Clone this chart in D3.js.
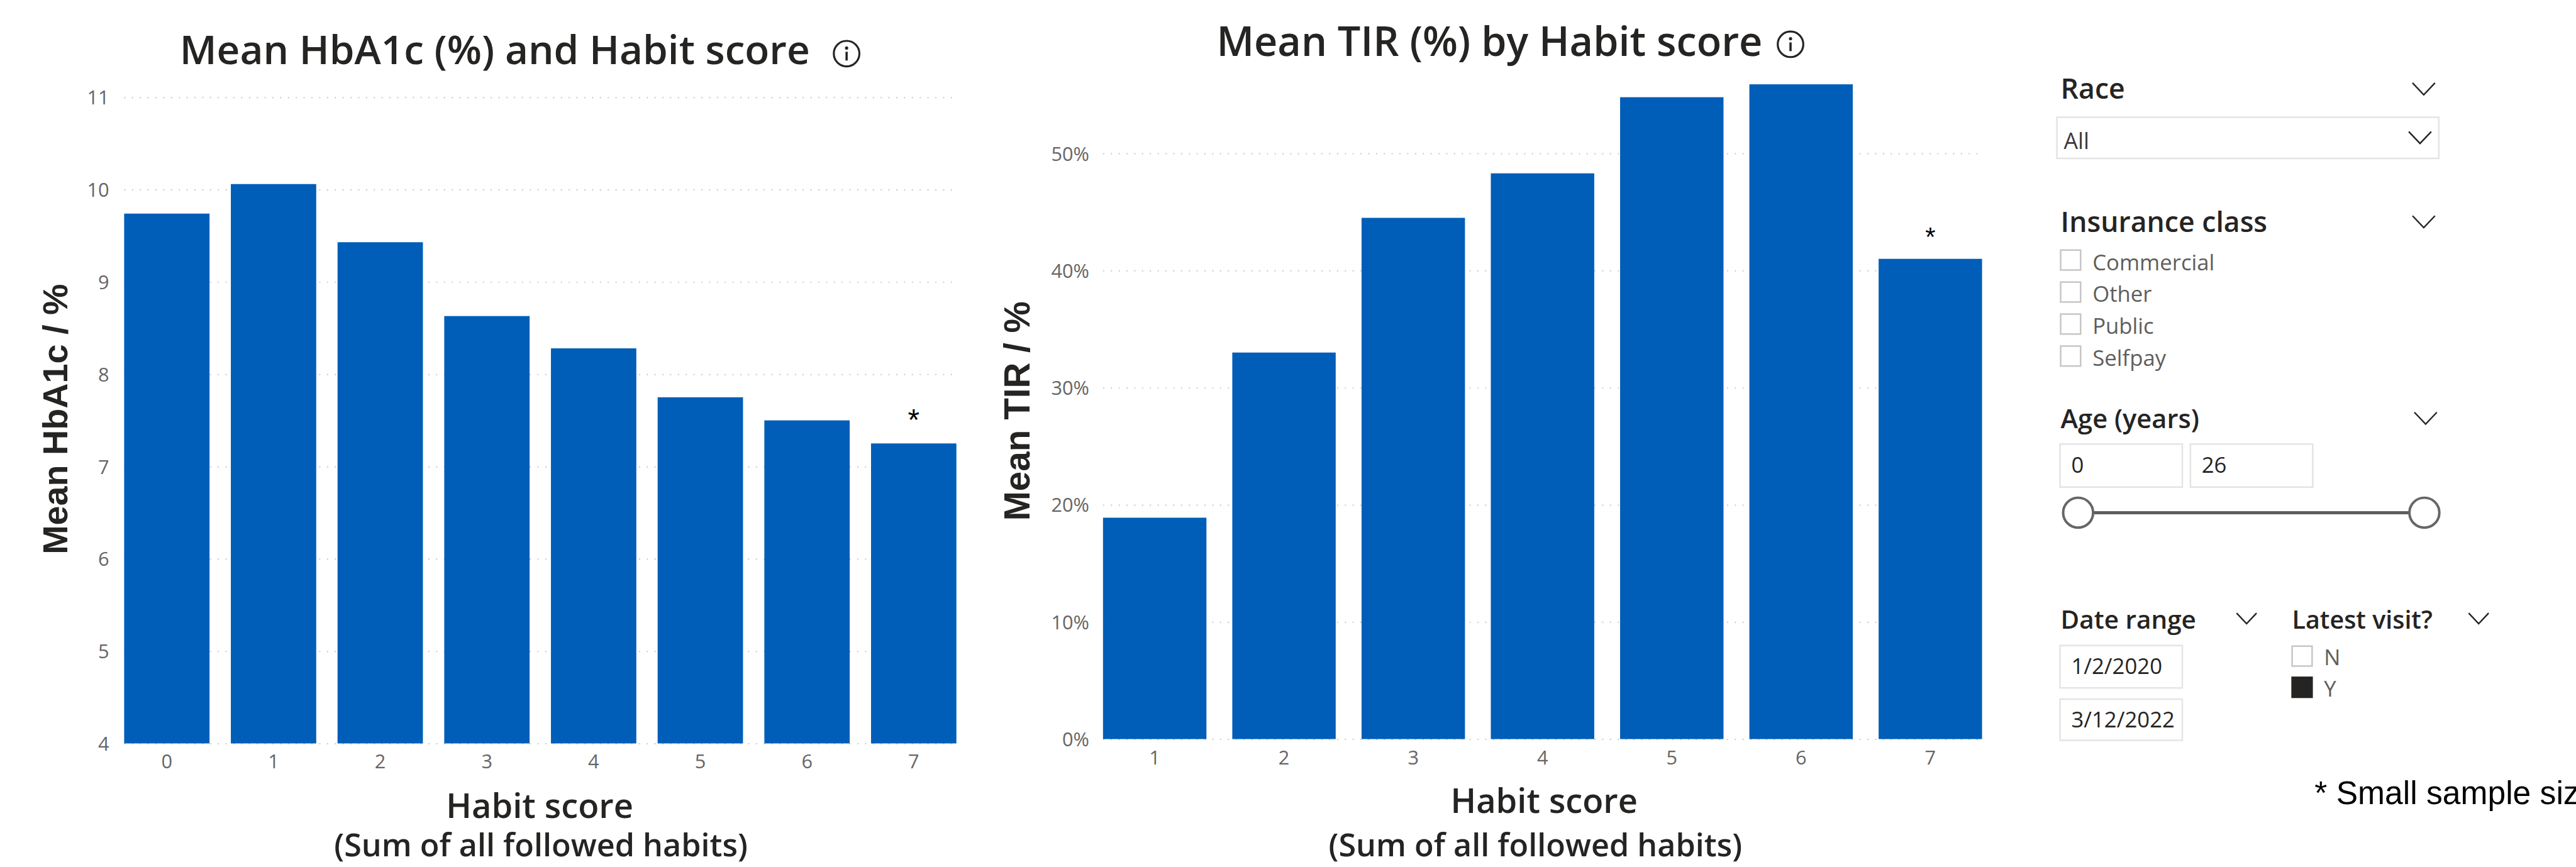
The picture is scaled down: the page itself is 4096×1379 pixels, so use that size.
<!DOCTYPE html>
<html>
<head>
<meta charset="utf-8">
<script src="https://cdn.jsdelivr.net/npm/d3@7"></script>
<style>
  html, body { margin: 0; padding: 0; background: #ffffff; overflow: hidden; }
  svg { display: block; }
</style>
</head>
<body>
<svg id="page" width="4096" height="1379"></svg>
<script>
// ---- data ----
const hba1cScores = ["0", "1", "2", "3", "4", "5", "6", "7"];
const hba1cMeans = [9.74, 10.06, 9.43, 8.63, 8.28, 7.75, 7.50, 7.25];
const hba1cTicks = [4, 5, 6, 7, 8, 9, 10, 11];

const tirScores = ["1", "2", "3", "4", "5", "6", "7"];
const tirMeans = [18.9, 33.0, 44.5, 48.3, 54.8, 55.9, 41.0];
const tirTicks = [0, 10, 20, 30, 40, 50];

const smallSampleScores = ["7"];

const insuranceClasses = ["Commercial", "Other", "Public", "Selfpay"];
const ageRange = ["0", "26"];
const dateRange = ["1/2/2020", "3/12/2022"];
const latestVisitOptions = ["N", "Y"];
const latestVisitChecked = [false, true];

// ---- styles ----
const UI_FONT = "'Open Sans', 'Noto Sans', sans-serif";
const ARIAL = "'Liberation Sans', Arial, sans-serif";
const INK = "#252423";
const BAR = "#005EB8";
const TICK = "#666666";
const GRID = "#c8c8c8";
const BORDER = "#e4e4e4";

const svg = d3.select("#page");
const root = svg.append("g").attr("transform", "scale(0.992)");

// scale a text's font size so it spans the given width
function fitWidth(sel, width) {
  const node = sel.node();
  const len = node.getComputedTextLength();
  const fs = parseFloat(sel.attr("font-size"));
  if (len > 0) sel.attr("font-size", (fs * width / len).toFixed(2));
  return sel;
}

function infoIcon(g, cx, cy) {
  const ic = g.append("g").attr("transform", `translate(${cx},${cy})`);
  ic.append("circle").attr("r", 20.5).attr("fill", "none").attr("stroke", INK).attr("stroke-width", 3.2);
  ic.append("circle").attr("cy", -9).attr("r", 2.6).attr("fill", INK);
  ic.append("line").attr("y1", -3).attr("y2", 11).attr("stroke", INK).attr("stroke-width", 3.6);
}

function chevron(g, x, y, w, h) {
  g.append("path")
    .attr("d", `M${x},${y} L${x + w / 2},${y + h} L${x + w},${y}`)
    .attr("fill", "none").attr("stroke", INK).attr("stroke-width", 2.4);
}

// ---- bar chart builder ----
function barChart(opt) {
  const g = root.append("g");
  const x = d3.scaleBand().domain(opt.categories).range([opt.x0, opt.x1])
    .paddingInner(0.2).paddingOuter(0);
  const y = d3.scaleLinear().domain(opt.domain).range([opt.yBottom, opt.yTop]);

  // dotted gridlines
  const grid = g.append("g").attr("transform", `translate(${opt.x0},0)`)
    .call(d3.axisLeft(y).tickValues(opt.ticks).tickSize(-(opt.x1 - opt.x0)).tickFormat(""));
  grid.select(".domain").remove();
  grid.selectAll("line").attr("stroke", GRID).attr("stroke-width", 2)
    .attr("stroke-dasharray", "2 10.5");

  // bars
  g.append("g").selectAll("rect")
    .data(opt.values)
    .join("rect")
    .attr("x", (d, i) => x(opt.categories[i]))
    .attr("width", x.bandwidth())
    .attr("y", d => y(d))
    .attr("height", d => y(opt.domain[0]) - y(d))
    .attr("fill", BAR);

  // y tick labels
  const ya = g.append("g").attr("transform", `translate(${opt.x0},0)`)
    .call(d3.axisLeft(y).tickValues(opt.ticks).tickSize(0).tickPadding(opt.yPad).tickFormat(opt.yFormat));
  ya.select(".domain").remove();
  ya.selectAll("text").attr("font-family", UI_FONT).attr("font-size", 31).attr("fill", TICK)
    .attr("dy", "0.36em");

  // x tick labels
  const xa = g.append("g").attr("transform", `translate(0,${opt.yBottom})`)
    .call(d3.axisBottom(x).tickSize(0).tickPadding(opt.xPad));
  xa.select(".domain").remove();
  xa.selectAll("text").attr("font-family", UI_FONT).attr("font-size", 31).attr("fill", TICK)
    .attr("dy", "0.71em");

  // small-sample markers
  g.append("g").selectAll("text")
    .data(smallSampleScores)
    .join("text")
    .attr("x", d => x(d) + x.bandwidth() / 2)
    .attr("y", d => y(opt.values[opt.categories.indexOf(d)]) - 21)
    .attr("text-anchor", "middle")
    .attr("font-family", ARIAL).attr("font-size", opt.starSize).attr("fill", "#000")
    .text("*");

  // title
  const t = g.append("text").attr("x", opt.titleX).attr("y", opt.titleY)
    .attr("font-family", UI_FONT).attr("font-weight", 600).attr("font-size", 64).attr("fill", INK)
    .text(opt.title);
  fitWidth(t, opt.titleW);
  infoIcon(g, opt.iconX, opt.iconY);

  // y axis title
  const yt = g.append("text")
    .attr("transform", `translate(${opt.yTitleX},${opt.yTitleY}) rotate(-90)`)
    .attr("text-anchor", "middle")
    .attr("font-family", ARIAL).attr("font-weight", 700).attr("font-size", 56).attr("fill", INK)
    .text(opt.yTitle);
  fitWidth(yt, opt.yTitleW);

  // x axis titles
  const xt = g.append("text").attr("x", opt.xTitleX).attr("y", opt.xTitleY)
    .attr("text-anchor", "middle")
    .attr("font-family", UI_FONT).attr("font-weight", 600).attr("font-size", 56).attr("fill", INK)
    .text("Habit score");
  fitWidth(xt, 300);
  const xs = g.append("text").attr("x", opt.subX).attr("y", 1373)
    .attr("text-anchor", "middle")
    .attr("font-family", UI_FONT).attr("font-weight", 600).attr("font-size", 52).attr("fill", INK)
    .text("(Sum of all followed habits)");
  fitWidth(xs, 663);
}

barChart({
  categories: hba1cScores, values: hba1cMeans, ticks: hba1cTicks,
  domain: [4, 11], x0: 199, x1: 1533, yBottom: 1192, yTop: 156,
  yFormat: d3.format("d"), yPad: 24, xPad: 18, starSize: 48,
  title: "Mean HbA1c (%) and Habit score", titleX: 288, titleY: 103, titleW: 1010,
  iconX: 1357, iconY: 86,
  yTitle: "Mean HbA1c / %", yTitleX: 108, yTitleY: 672, yTitleW: 434,
  xTitleX: 865, xTitleY: 1311, subX: 867
});

barChart({
  categories: tirScores, values: tirMeans, ticks: tirTicks,
  domain: [0, 50], x0: 1768, x1: 3177, yBottom: 1185, yTop: 246,
  yFormat: d => d + "%", yPad: 22, xPad: 19, starSize: 42,
  title: "Mean TIR (%) by Habit score", titleX: 1950, titleY: 90, titleW: 875,
  iconX: 2870, iconY: 71,
  yTitle: "Mean TIR / %", yTitleX: 1650, yTitleY: 659, yTitleW: 352,
  xTitleX: 2475, xTitleY: 1303, subX: 2461
});

// ---- filter panel ----
const panel = root.append("g");

function header(txt, x, y, w) {
  const t = panel.append("text").attr("x", x).attr("y", y)
    .attr("font-family", UI_FONT).attr("font-weight", 600).attr("font-size", 44).attr("fill", INK)
    .text(txt);
  if (w) fitWidth(t, w);
}
function boxText(txt, x, y, size, color) {
  panel.append("text").attr("x", x).attr("y", y)
    .attr("font-family", UI_FONT).attr("font-size", size).attr("fill", color || INK).text(txt);
}
function box(x, y, w, h) {
  panel.append("rect").attr("x", x).attr("y", y).attr("width", w).attr("height", h)
    .attr("fill", "#fff").attr("stroke", BORDER).attr("stroke-width", 2.5);
}
function checkbox(x, y, checked) {
  panel.append("rect").attr("x", x + 1).attr("y", y + 1).attr("width", 32).attr("height", 32)
    .attr("fill", checked ? INK : "#fff").attr("stroke", checked ? INK : "#c8c6c4").attr("stroke-width", 2.5);
}

// Race
header("Race", 3303, 158, 103);
chevron(panel, 3867, 133, 36, 19);
box(3297, 188, 612, 66);
boxText("All", 3308, 239, 36, "#3b3a39");
chevron(panel, 3861, 211, 36, 19);

// Insurance class
header("Insurance class", 3303, 372, 331);
chevron(panel, 3867, 346, 36, 19);
insuranceClasses.forEach((c, i) => {
  const top = 400 + i * 51.3;
  checkbox(3302, top, false);
  boxText(c, 3354, top + 33, 35, "#605e5c");
});

// Age (years)
header("Age (years)", 3303, 686, 222);
chevron(panel, 3870, 661, 36, 19);
box(3302, 712, 196, 69);
box(3511, 712, 196, 69);
boxText(ageRange[0], 3320, 758, 35);
boxText(ageRange[1], 3529, 758, 35);
panel.append("line").attr("x1", 3355).attr("x2", 3862).attr("y1", 822).attr("y2", 822)
  .attr("stroke", "#605e5c").attr("stroke-width", 5);
[3331, 3886].forEach(cx => {
  panel.append("circle").attr("cx", cx).attr("cy", 822).attr("r", 24)
    .attr("fill", "#fff").attr("stroke", "#666666").attr("stroke-width", 4);
});

// Date range
header("Date range", 3303, 1008, 217);
chevron(panel, 3585, 983, 32, 17);
box(3302, 1035, 196, 68);
box(3302, 1121, 196, 66);
boxText(dateRange[0], 3320, 1081, 35);
boxText(dateRange[1], 3320, 1166, 35);

// Latest visit?
header("Latest visit?", 3674, 1008, 225);
chevron(panel, 3957, 983, 32, 17);
latestVisitOptions.forEach((o, i) => {
  const top = 1035 + i * 50;
  checkbox(3673, top, latestVisitChecked[i]);
  boxText(o, 3725, top + 32, 35, "#605e5c");
});

// footnote (runs past the right edge of the page)
root.append("text").attr("x", 3710).attr("y", 1289)
  .attr("font-family", ARIAL).attr("font-size", 52).attr("fill", "#000")
  .text("* Small sample size");
</script>
</body>
</html>
